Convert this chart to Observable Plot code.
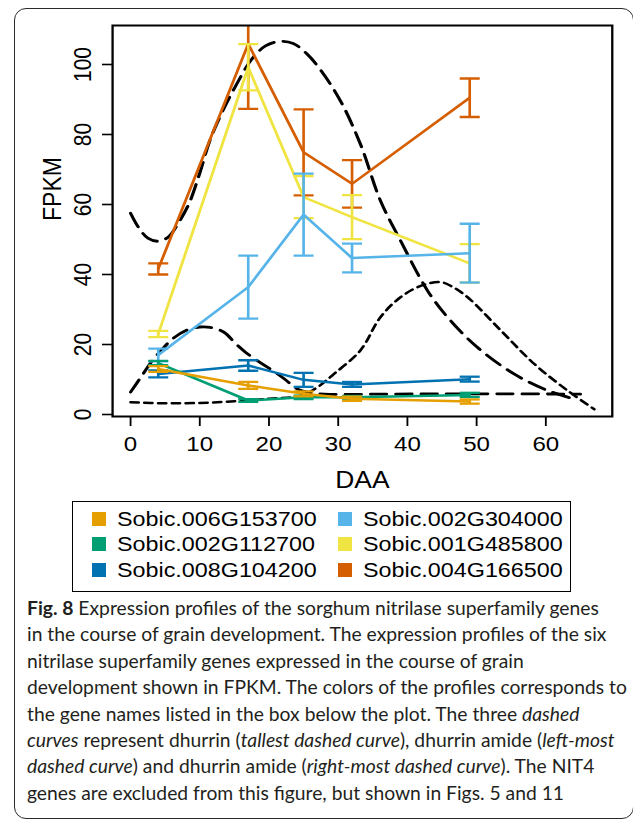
<!DOCTYPE html>
<html>
<head>
<meta charset="utf-8">
<script src="https://cdn.jsdelivr.net/npm/d3@7"></script>
<script src="https://cdn.jsdelivr.net/npm/@observablehq/plot@0.6"></script>
<style>
  html, body { margin: 0; padding: 0; background: #fff; width: 633px; height: 822px; overflow: hidden; }
  #frame { position: absolute; left: 14px; top: 8px; width: 620px; height: 811px; border: 1.5px solid #2a2a2a; border-radius: 12px; box-sizing: border-box; }
  #chart { position: absolute; left: 0; top: 0; width: 633px; height: 495px; }
  #chart svg { transform-origin: 0 0; }
  #legend { position: absolute; left: 72px; top: 501px; width: 499px; height: 91px; border: 1.5px solid #000; box-sizing: border-box; font-family: "Liberation Sans", Arial, Helvetica, sans-serif; }
  .sw { position: absolute; width: 14px; height: 14px; }
  .lab { position: absolute; font-size: 20.3px; line-height: 24px; white-space: nowrap; transform: scaleX(1.15); transform-origin: 0 50%; color: #000; }
  #caption { position: absolute; left: 27px; top: 595px; font-family: Lato, "Open Sans", sans-serif; font-size: 19.3px; line-height: 26.4px; color: #231f20; white-space: nowrap; }
</style>
</head>
<body>
<div id="frame"></div>
<div id="chart"></div>
<div id="legend"></div>
<div id="caption"><b>Fig. 8</b> Expression profiles of the sorghum nitrilase superfamily genes<br>in the course of grain development. The expression profiles of the six<br>nitrilase superfamily genes expressed in the course of grain<br>development shown in FPKM. The colors of the profiles corresponds to<br>the gene names listed in the box below the plot. The three <i>dashed</i><br><i>curves</i> represent dhurrin (<i>tallest dashed curve</i>), dhurrin amide (<i>left-most</i><br><i>dashed curve</i>) and dhurrin amide (<i>right-most dashed curve</i>). The NIT4<br>genes are excluded from this figure, but shown in Figs. 5 and 11</div>
<script>
// ---- data ----
const days = [4, 17, 25, 32, 49];
const genes = ["Sobic.006G153700", "Sobic.002G112700", "Sobic.008G104200",
               "Sobic.002G304000", "Sobic.001G485800", "Sobic.004G166500"];
const colors = ["#E69F00", "#009E73", "#0072B2", "#56B4E9", "#F0E442", "#D55E00"];
const mean006 = [13.0, 8.3, 5.9, 4.5, 3.7];
const err006  = [0.8, 1.0, 0.7, 0.6, 0.6];
const mean002a = [14.7, 4.0, 4.9, 4.9, 5.6];
const err002a  = [0.6, 0.4, 0.5, 0.4, 0.6];
const mean008 = [11.6, 14.0, 9.9, 8.6, 10.1];
const err008  = [1.0, 1.5, 2.0, 0.7, 0.7];
const mean002b = [17.0, 36.4, 57.1, 44.7, 46.1];
const err002b  = [1.8, 9.0, 11.7, 4.1, 8.4];
const mean001 = [23.0, 99.2, 62.1, 56.4, 43.2];
const err001  = [0.9, 6.6, 6.0, 6.3, 5.5];
const mean004 = [41.6, 105.9, 74.9, 65.9, 90.5];
const err004  = [1.6, 18.6, 12.3, 6.8, 5.5];
// dashed curves (x = DAA, y = relative level)
const dhurrinX = [0, 1.2, 2.5, 4, 5.5, 7, 8.5, 10, 11.5, 13.5, 15.5, 17.5, 19.5, 21.5, 23.5, 25.5, 27.5, 30.3, 33.2, 36.1, 39, 42.9, 45.8, 50.1, 55.4, 60.2, 64.5];
const dhurrinY = [57.5, 53.3, 50.4, 49.5, 50.8, 55, 60.5, 69, 78.5, 87.5, 95, 101.5, 105.3, 106.6, 106, 103, 98.3, 89.7, 77.3, 61.1, 49.7, 35.4, 27.8, 19.2, 11.6, 6.9, 4.2];
const amideLeftX = [0, 1.5, 3, 4.5, 6, 8, 10, 11.5, 13.5, 15.2, 16.6, 18.3, 20.2, 22.2, 24.1, 26, 28, 35, 45, 55, 65];
const amideLeftY = [6.4, 10.7, 15, 18.5, 21.5, 24, 25, 24.9, 23.5, 20.2, 17.8, 15.4, 13, 10.2, 7.3, 6.2, 5.8, 5.8, 5.9, 5.9, 5.8];
const amideRightX = [0, 5, 10, 15, 20, 24.6, 27, 29.4, 33.2, 36.1, 39, 42, 44.8, 46.5, 48.7, 53.5, 58.3, 63.1, 67];
const amideRightY = [3.5, 3.2, 3.3, 3.8, 4.5, 5.4, 7.8, 11.6, 18.3, 27.8, 33.5, 36.8, 37.8, 36.5, 33.5, 24, 14.5, 6.9, 1.5];
const xTicks = [0, 10, 20, 30, 40, 50, 60];
const yTicks = [0, 20, 40, 60, 80, 100];
const xLabel = "DAA";
const yLabel = "FPKM";

// ---- build tables ----
const means = [mean006, mean002a, mean008, mean002b, mean001, mean004];
const errs = [err006, err002a, err008, err002b, err001, err004];
const rowsFor = i => days.map((d, j) => ({gene: genes[i], day: d, mean: means[i][j], err: errs[i][j]}));
const curve = (xs, ys) => xs.map((x, k) => ({x, y: ys[k]}));

const S = 633 / 551; // horizontal stretch of the original figure
const capHalf = 10 / S;
const capSymbol = {draw(ctx) { ctx.moveTo(-capHalf, 0); ctx.lineTo(capHalf, 0); }};

const seriesMarks = [];
for (const i of [5, 4, 3, 2, 1, 0]) {
  const rows = rowsFor(i);
  const c = colors[i];
  seriesMarks.push(
    Plot.ruleX(rows, {x: "day", y1: d => d.mean - d.err, y2: d => d.mean + d.err, stroke: c, strokeWidth: 2.3, clip: true}),
    Plot.dot(rows, {x: "day", y: d => d.mean + d.err, symbol: capSymbol, r: 5, fill: "none", stroke: c, strokeWidth: 2.3, clip: true}),
    Plot.dot(rows, {x: "day", y: d => d.mean - d.err, symbol: capSymbol, r: 5, fill: "none", stroke: c, strokeWidth: 2.3, clip: true}),
    Plot.line(rows, {x: "day", y: "mean", stroke: c, strokeWidth: 2.5, clip: true})
  );
}

const chart = Plot.plot({
  width: 551,
  height: 495,
  marginLeft: 112 / S,
  marginRight: 551 - 611.7 / S,
  marginTop: 25,
  marginBottom: 79,
  x: {domain: [-2.6, 69.6]},
  y: {domain: [-0.571, 111.14]},
  style: {fontFamily: "'Liberation Sans', Arial, Helvetica, sans-serif", color: "#000", background: "transparent", overflow: "visible"},
  marks: [
    Plot.line(curve(dhurrinX, dhurrinY), {x: "x", y: "y", curve: "catmull-rom", stroke: "#000", strokeWidth: 2.8, strokeDasharray: "15,8", clip: true}),
    Plot.line(curve(amideLeftX, amideLeftY), {x: "x", y: "y", curve: "catmull-rom", stroke: "#000", strokeWidth: 2.8, strokeDasharray: "14,8", clip: true}),
    Plot.line(curve(amideRightX, amideRightY), {x: "x", y: "y", curve: "catmull-rom", stroke: "#000", strokeWidth: 2.5, strokeDasharray: "7,5", clip: true}),
    ...seriesMarks,
    Plot.frame({stroke: "#000", strokeWidth: 2}),
    Plot.axisX({ticks: xTicks, tickSize: 10, tickPadding: 10, fontSize: 21, strokeWidth: 1.6, label: null, tickFormat: d => String(d)}),
    Plot.axisY({ticks: yTicks, tickSize: 10 / S, tickPadding: 10.5, tickRotate: -90, textAnchor: "middle", lineAnchor: "bottom", fontSize: 21, strokeWidth: 1.6, label: null, tickFormat: d => String(d)}),
    Plot.text([yLabel], {text: d => d, frameAnchor: "left", dx: -52.5, rotate: -90, lineAnchor: "middle", fontSize: 23}),
    Plot.text([xLabel], {text: d => d, frameAnchor: "bottom", dy: 64, lineAnchor: "middle", fontSize: 23})
  ]
});
chart.style.transform = `scaleX(${S})`;
document.getElementById("chart").appendChild(chart);

// ---- legend ----
const legend = document.getElementById("legend");
const rowTops = [18, 43.5, 69];
genes.forEach((g, i) => {
  const col = i < 3 ? 0 : 1;
  const row = i % 3;
  const sw = document.createElement("div");
  sw.className = "sw";
  sw.style.background = colors[i];
  sw.style.left = (col ? 264.5 : 19) + "px";
  sw.style.top = (rowTops[row] - 7 - 1.5) + "px";
  legend.appendChild(sw);
  const t = document.createElement("div");
  t.className = "lab";
  t.textContent = g;
  t.style.left = (col ? 289.5 : 44) + "px";
  t.style.top = (rowTops[row] - 12 - 1.5) + "px";
  legend.appendChild(t);
});
</script>
</body>
</html>
